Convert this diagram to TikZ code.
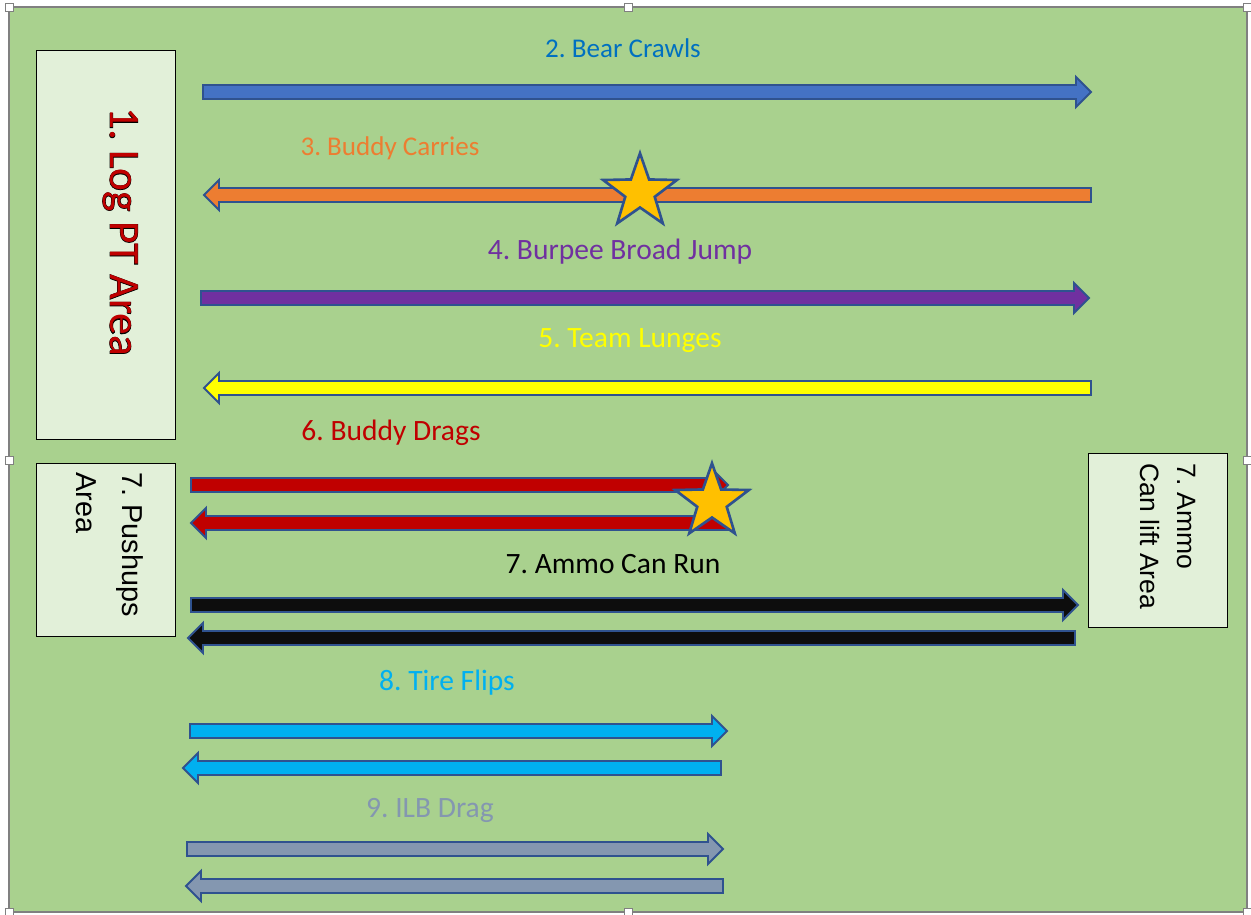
\documentclass[tikz,border=0pt]{standalone}
\usepackage{fontspec}
\setmainfont{Carlito}
\newfontfamily\arialf{Liberation Sans}
\newfontfamily\fbfont[FakeBold=1.8]{Carlito}
\usetikzlibrary{shapes.geometric}
\frenchspacing
\definecolor{bggreen}{HTML}{A9D18E}
\definecolor{boxfill}{HTML}{E2F0D9}
\definecolor{outl}{HTML}{2F528F}
\definecolor{cblue}{HTML}{4472C4}
\definecolor{corange}{HTML}{ED7D31}
\definecolor{cpurple}{HTML}{7030A0}
\definecolor{cyellow}{HTML}{FFFF00}
\definecolor{cred}{HTML}{C00000}
\definecolor{cblack}{HTML}{0D0D0D}
\definecolor{ccyan}{HTML}{00B0F0}
\definecolor{cgrey}{HTML}{8497B0}
\definecolor{cstar}{HTML}{FFC000}
\definecolor{tblue}{HTML}{0070C0}
\tikzset{
  barrow/.style={draw=outl, line width=1.1pt, line join=miter},
  areabox/.style={draw=black, fill=boxfill, line width=0.5pt, inner sep=0pt, minimum width=2.78cm},
  lbl/.style={anchor=base, inner sep=0pt, font=\fontsize{15.4}{18}\selectfont},
  lblb/.style={anchor=base, inner sep=0pt, font=\fontsize{16.8}{20}\selectfont},
  boxtxt/.style={anchor=base west, rotate=-90, inner sep=0pt},
  starnode/.style={star, star points=5, star point ratio=2.5, minimum size=1.55cm, inner sep=0pt, draw=outl, fill=cstar, line width=1.5pt},
  handle/.style={draw=gray, fill=white, line width=0.4pt}
}
% right arrow: x1, x2(tip), y, fill
\newcommand{\arrR}[4]{%
  \draw[barrow, fill=#4] (#1,#3-7) -- (#2-15,#3-7) -- (#2-15,#3-15) -- (#2,#3) -- (#2-15,#3+15) -- (#2-15,#3+7) -- (#1,#3+7) -- cycle;}
% left arrow: x1(tip), x2, y, fill
\newcommand{\arrL}[4]{%
  \draw[barrow, fill=#4] (#2,#3-7) -- (#1+15,#3-7) -- (#1+15,#3-15) -- (#1,#3) -- (#1+15,#3+15) -- (#1+15,#3+7) -- (#2,#3+7) -- cycle;}
\begin{document}
\begin{tikzpicture}[x=0.02cm,y=-0.02cm]
\useasboundingbox (0,0) rectangle (1251,915);
\fill[white] (0,0) rectangle (1251,915);
\draw[draw=gray, fill=bggreen, line width=0.6pt] (9,7) rectangle (1247,912);
\foreach \hx/\hy in {9/7,628/7,1247/7,9/460,1247/460,9/912,628/912,1247/912}
  \draw[handle] (\hx-4,\hy-4) rectangle (\hx+4,\hy+4);

% area boxes
\node[areabox, minimum height=7.78cm] (logbox) at (105.5,244.5) {};
\node[areabox, minimum height=3.46cm] (pushbox) at (105.5,549.5) {};
\node[areabox, minimum height=3.48cm] (ammobox) at (1157.5,540) {};

% Log PT text with outline
\node[anchor=base, rotate=-90, inner sep=0pt, text=black] (logout) at (110,232) {\fbfont\fontsize{24.6}{29}\selectfont 1. Log PT Area};
\node[anchor=base, rotate=-90, inner sep=0pt, text=cred] (logtxt) at (110,232) {\fontsize{24.6}{29}\selectfont 1. Log PT Area};

\node[boxtxt] (push1) at (122,472) {\arialf\fontsize{16.4}{20}\selectfont 7. Pushups};
\node[boxtxt] (push2) at (76,472) {\arialf\fontsize{16.4}{20}\selectfont Area};
\node[boxtxt] (ammo1) at (1177,463) {\arialf\fontsize{15.1}{20}\selectfont 7. Ammo};
\node[boxtxt] (ammo2) at (1140,463) {\arialf\fontsize{15.1}{20}\selectfont Can lift Area};

% arrows
\arrR{203}{1091}{92}{cblue}
\arrL{204}{1091}{195}{corange}
\arrR{201}{1089}{298}{cpurple}
\arrL{204}{1091}{388}{cyellow}
\arrR{191}{728}{485}{cred}
\arrL{191}{728}{523}{cred}
\arrR{191}{1078}{605}{cblack}
\arrL{188}{1075}{638}{cblack}
\arrR{190}{727}{731}{ccyan}
\arrL{183}{721}{768}{ccyan}
\arrR{187}{723}{849}{cgrey}
\arrL{186}{723}{886}{cgrey}

% stars
\node[starnode] (star1) at (640,192) {};
\node[starnode] (star2) at (712,502) {};

% labels
\node[lbl, text=tblue] (l2) at (623,58) {2. Bear Crawls};
\node[lbl, text=corange] (l3) at (390,156) {3. Buddy Carries};
\node[lblb, text=cpurple] (l4) at (620,260) {4. Burpee Broad Jump};
\node[lblb, text=cyellow] (l5) at (630,348) {5. Team Lunges};
\node[lblb, text=cred] (l6) at (391,440) {6. Buddy Drags};
\node[lblb, text=black] (l7) at (613,573) {7. Ammo Can Run};
\node[lblb, text=ccyan] (l8) at (447,690) {8. Tire Flips};
\node[lblb, text=cgrey] (l9) at (430,817) {9. ILB Drag};
\end{tikzpicture}
\end{document}
